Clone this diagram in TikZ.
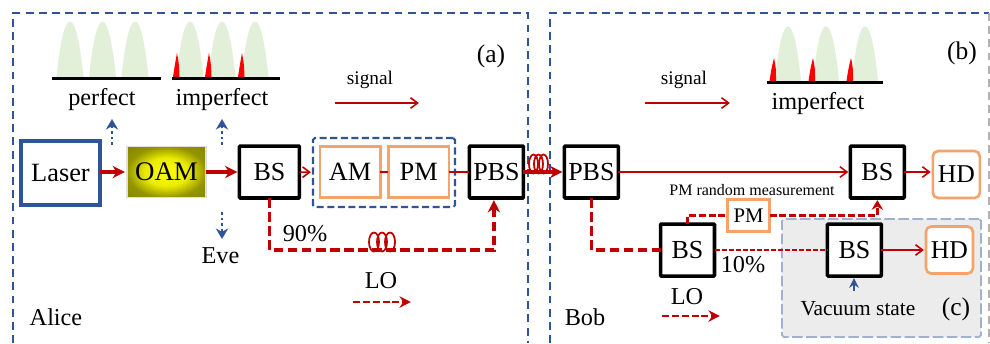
\documentclass[tikz,border=0pt]{standalone}
\usepackage{fontspec}
\setmainfont{Liberation Serif}
\usetikzlibrary{arrows.meta, positioning}
\definecolor{fibre}{HTML}{C00000}
\definecolor{frameblue}{HTML}{2F5597}
\definecolor{modorange}{HTML}{F4A46A}
\definecolor{pulsegreen}{HTML}{E2EFD9}
\pgfdeclareradialshading{oamglow}{\pgfpointorigin}{color(0bp)=(yellow); color(14bp)=(yellow!92!black); color(25bp)=(yellow!58!black); color(50bp)=(yellow!45!black)}
\begin{document}
\begin{tikzpicture}[x=0.02cm, y=-0.02cm, line join=miter,
  txtlabel/.style={inner sep=0pt, font=\fontsize{13.8}{16}\selectfont},
  tag/.style={inner sep=0pt, font=\fontsize{14.5}{17}\selectfont},
  bsbox/.style={draw=black, line width=2pt, fill=white, rounded corners=0.5pt, outer sep=0pt, minimum width=1.08cm, minimum height=1.04cm, inner sep=0pt, font=\fontsize{14.8}{17}\selectfont},
  modbox/.style={draw=modorange, line width=1.5pt, fill=white, outer sep=0pt, minimum width=1.21cm, minimum height=1.02cm, inner sep=0pt, font=\fontsize{15}{18}\selectfont},
  hdbox/.style={draw=modorange, line width=1.5pt, fill=white, rounded corners=3pt, outer sep=0pt, minimum width=0.94cm, minimum height=0.94cm, inner sep=0pt, font=\fontsize{14.6}{17}\selectfont},
  heavy/.style={draw=fibre, fill=fibre, line width=1.8pt, shorten >=1.2pt, -{Stealth[length=7pt, width=7pt]}},
  light/.style={draw=fibre, line width=0.9pt, shorten >=1.2pt, -{Straight Barb[length=4pt, width=6pt]}},
  plain/.style={draw=fibre, line width=0.9pt},
  lo/.style={draw=fibre, color=fibre, line width=1.8pt, dash pattern=on 5.5pt off 2.5pt},
  lothin/.style={draw=fibre, color=fibre, line width=0.9pt, dash pattern=on 3pt off 1pt},
  loarrow/.style={draw=fibre, color=fibre, line width=1.4pt, dash pattern=on 4pt off 1.6pt, shorten >=1.2pt, -{Stealth[length=6.5pt, width=6.5pt]}},
  leak/.style={draw=frameblue, line width=1.5pt, dash pattern=on 1.6pt off 1.6pt, -{Stealth[length=6pt, width=7pt]}},
  panel/.style={draw=frameblue, line width=1pt, dash pattern=on 4.5pt off 3pt},
  coilloop/.style={draw=fibre, line width=1pt},
  pulseline/.style={draw=black, line width=1.7pt},
  peak/.style={fill=pulsegreen},
  spike/.style={fill=red}]

  \useasboundingbox (0,0) rectangle (990,343);

  % frames of the two parties
  \draw [panel] (13,343) -- (13,13) -- (528,13) -- (528,343);
  \draw [panel] (550,343) -- (550,13) -- (989,13);
  \draw [draw=gray!60, line width=1pt, dash pattern=on 4.5pt off 3pt] (989,13) -- (989,343);
  \node [draw=frameblue!45, fill=gray!15, line width=1pt, dash pattern=on 6pt off 2pt, minimum width=3.98cm, minimum height=2.36cm, rounded corners=1pt] (vacbox) at (881.5,278) {};

  % pulses
  \foreach \x in {70,102.5,135}
    \fill [peak] (\x-13.5,77) .. controls (\x-6,3) and (\x+6,3) .. (\x+13.5,77) -- cycle;
  \draw [pulseline] (52,78.5) -- (161,78.5);
  \foreach \x in {190,222,255}
    \fill [peak] (\x-13.5,77) .. controls (\x-6,3) and (\x+6,3) .. (\x+13.5,77) -- cycle;
  \foreach \x in {177,209,242}
    \fill [spike] (\x-4,77) .. controls (\x-2,64) .. (\x,53) .. controls (\x+2,64) .. (\x+2.5,77) -- cycle;
  \draw [pulseline] (172,78) -- (280,78);
  \foreach \x in {788,826,865}
    \fill [peak] (\x-13,81) .. controls (\x-6,8) and (\x+6,8) .. (\x+13,81) -- cycle;
  \foreach \x in {774,813,851}
    \fill [spike] (\x-4.5,81) .. controls (\x-2.5,68) .. (\x,58) .. controls (\x+2,68) .. (\x+2,81) -- cycle;
  \draw [pulseline] (767,82) -- (883,82);

  % Alice
  \node [draw=frameblue, line width=1.9pt, fill=white, outer sep=0pt, minimum width=1.58cm, minimum height=1.28cm, inner sep=0pt, font=\fontsize{15}{18}\selectfont] (laser) at (60.5,173) {Laser};
  \node [right=0.54cm of laser, yshift=0.02cm, draw=gray!25, line width=1pt, shading=oamglow, outer sep=0pt, minimum width=1.58cm, minimum height=1.02cm, inner sep=0pt, font=\fontsize{15.3}{18}\selectfont] (oam) {OAM};
  \node [bsbox, right=0.67cm of oam, minimum width=1.2cm] (bsa) {BS};
  \node [modbox, right=0.41cm of bsa] (am) {AM};
  \node [modbox, right=0.16cm of am] (pm) {PM};
  \node [bsbox, right=0.41cm of pm] (pbsa) {PBS};
  \node [draw=frameblue, line width=1.2pt, dash pattern=on 4pt off 2pt, outer sep=0pt, minimum width=2.84cm, minimum height=1.38cm, rounded corners=1pt] (mods) at (384,172.5) {};

  % Bob
  \node [bsbox, right=0.82cm of pbsa] (pbsb) {PBS};
  \node [bsbox, right=4.64cm of pbsb] (bsd) {BS};
  \node [hdbox, right=0.57cm of bsd, yshift=-0.05cm] (hda) {HD};
  \node [bsbox] (bsl) at (687.5,250) {BS};
  \node [bsbox, right=2.26cm of bsl] (bsr) {BS};
  \node [hdbox, right=0.89cm of bsr] (hdb) {HD};
  \node [draw=modorange, line width=1.5pt, fill=white, outer sep=0pt, minimum width=0.84cm, minimum height=0.64cm, inner sep=0pt, font=\fontsize{11.8}{14}\selectfont] (pmb) at (748.5,215.5) {PM};

  % labels
  \node [txtlabel] (perfect) at (102,100) {perfect};
  \node [txtlabel] (imperfa) at (222,100) {imperfect};
  \node [txtlabel] (imperfb) at (818,104) {imperfect};
  \node [txtlabel] (eve) at (220.5,256) {Eve};
  \node [txtlabel] (alice) at (56,317) {Alice};
  \node [txtlabel] (bob) at (585,317) {Bob};
  \node [txtlabel] (loa) at (381,281) {LO};
  \node [txtlabel] (lob) at (687,297) {LO};
  \node [txtlabel] (ninety) at (305,234) {90\%};
  \node [txtlabel] (ten) at (743,265) {10\%};
  \node [inner sep=0pt, font=\fontsize{11}{13}\selectfont] (siga) at (370,80) {signal};
  \node [inner sep=0pt, font=\fontsize{11}{13}\selectfont] (sigb) at (684,80) {signal};
  \node [inner sep=0pt, font=\fontsize{9.1}{11}\selectfont] (pmrand) at (752,190) {PM random measurement};
  \node [inner sep=0pt, font=\fontsize{12.2}{14}\selectfont] (vacuum) at (858,309) {Vacuum state};
  \node [tag] (taga) at (491,56) {(a)};
  \node [tag] (tagb) at (962,53) {(b)};
  \node [tag] (tagc) at (956,309) {(c)};

  % free ends
  \coordinate (sigaA) at (335,103);
  \coordinate (sigaB) at (421,103);
  \coordinate (sigbA) at (645,103);
  \coordinate (sigbB) at (732,103);
  \coordinate (loaA) at (353,302);
  \coordinate (loaB) at (413,302);
  \coordinate (lobA) at (662,316);
  \coordinate (lobB) at (722,316);
  \coordinate (leakaA) at (112,145);
  \coordinate (leakaB) at (112,119);
  \coordinate (leakbA) at (222,145);
  \coordinate (leakbB) at (222,119);
  \coordinate (leakcA) at (222,212);
  \coordinate (leakcB) at (222,239);
  \coordinate (vacA) at (854,291);
  \coordinate (delay) at (382,250);

  % signal path
  \draw [heavy] (laser.east |- oam) -- (oam);
  \draw [heavy] (oam) -- (bsa);
  \draw [light] (bsa) -- (mods);
  \draw [plain] (am) -- (pm);
  \draw [plain] (pm) -- (pbsa);
  \draw [heavy] (pbsa) -- (pbsb);
  \draw [light] (pbsb) -- (bsd);
  \draw [light] (bsd) -- (hda.west |- bsd);
  \draw [light] (bsr) -- (hdb);
  \draw [light] (sigaA) -- (sigaB);
  \draw [light] (sigbA) -- (sigbB);

  % local oscillator path
  \draw [lo, shorten >=1.2pt, -{Stealth[length=7pt, width=7pt]}] (bsa) |- (delay) -| ([xshift=-0.05cm]pbsa.south);
  \draw [lo] (pbsb) |- (bsl);
  \draw [lothin] (bsl) -- (bsr);
  \draw [loarrow, -] (bsl) |- (pmb);
  \draw [loarrow, -{Stealth[length=5.5pt, width=6.5pt]}] (pmb) -| (bsd);
  \draw [loarrow] (loaA) -- (loaB);
  \draw [loarrow] (lobA) -- (lobB);

  % blue arrows
  \draw [leak] (leakaA) -- (leakaB);
  \draw [leak] (leakbA) -- (leakbB);
  \draw [leak] (leakcA) -- (leakcB);
  \draw [draw=frameblue, line width=1.1pt, shorten >=1.2pt, -{Stealth[length=5.5pt, width=5.5pt]}] (vacA) -- (bsr.south -| vacA);

  % fibre coils
  \foreach \x in {533.5,538.5,543.5}
    \draw [coilloop] (\x,164) ellipse (4.5 and 9.5);
  \foreach \x in {374,382,390}
    \draw [coilloop] (\x,242) ellipse (5 and 9.5);
\end{tikzpicture}
\end{document}
